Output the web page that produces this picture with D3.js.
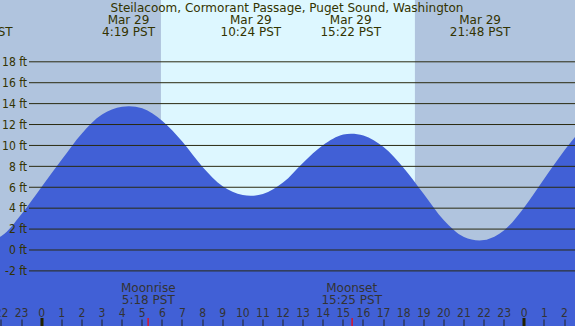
<!DOCTYPE html>
<html>
<head>
<meta charset="utf-8">
<script src="https://cdn.jsdelivr.net/npm/d3@7"></script>
<style>
html,body{margin:0;padding:0;background:#fff;}
svg{display:block;}
</style>
</head>
<body>
<svg id="chart" width="575" height="326"></svg>
<script>
// ---- data (hours relative to Mar 29 00:00 PST) ----
const sampleHours   = [-3,-2,-1,0,1,2,3,4,5,6,7,8,9,10,11,12,13,14,15,16,17,18,19,20,21,22,23,24,25,26,27];
const sampleHeights = [0.7,1.3,3.4,6.0,8.6,11.1,12.9,13.65,13.5,12.3,10.3,7.9,6.05,5.2,5.3,6.4,8.3,10.0,11.0,10.9,9.8,7.8,5.3,2.8,1.2,0.9,1.85,4.05,6.8,9.5,11.9];

const extremeHours = [-2.95, 4.317, 10.4, 15.367, 21.8];
const extremeDates = ["", "Mar 29", "Mar 29", "Mar 29", "Mar 29"];
const extremeTimes = ["21:03 PST", "4:19 PST", "10:24 PST", "15:22 PST", "21:48 PST"];

const sunriseHour = 5.93;
const sunsetHour = 18.56;

const moonHours  = [5.3, 15.417];
const moonNames  = ["Moonrise", "Moonset"];
const moonTimes  = ["5:18 PST", "15:25 PST"];

const ftTicks = [-2, 0, 2, 4, 6, 8, 10, 12, 14, 16, 18];
const hourTicks = [-2,-1,0,1,2,3,4,5,6,7,8,9,10,11,12,13,14,15,16,17,18,19,20,21,22,23,24,25,26];
const hourTickLabels = ["22","23","0","1","2","3","4","5","6","7","8","9","10","11","12","13","14","15","16","17","18","19","20","21","22","23","0","1","2"];

const title = "Steilacoom, Cormorant Passage, Puget Sound, Washington";

// ---- chart ----
const W = 575, H = 326;
const svg = d3.select("#chart");
const x = d3.scaleLinear().domain([0, 24]).range([41.7, 524.3]);
const y = d3.scaleLinear().domain([-2, 18]).range([270.4, 61.3]);

const NIGHT = "#b0c4de", DAY = "#ddf7ff", WATER = "#4160d6";
const TXT = "#333300";

// background night / day
svg.append("rect").attr("x", 0).attr("y", 0).attr("width", W).attr("height", H).attr("fill", NIGHT);
svg.append("rect").attr("x", x(sunriseHour)).attr("y", 0)
  .attr("width", x(sunsetHour) - x(sunriseHour)).attr("height", H).attr("fill", DAY);

// tide area
const area = d3.area()
  .x((d, i) => x(sampleHours[i]))
  .y0(H)
  .y1(d => y(d))
  .curve(d3.curveCatmullRom.alpha(0.5));
svg.append("path").datum(sampleHeights).attr("d", area).attr("fill", WATER);

// ft gridlines via axis
const yAxis = d3.axisLeft(y).tickValues(ftTicks).tickSize(-(W - 29)).tickPadding(2)
  .tickFormat(d => d + " ft");
const gy = svg.append("g").attr("transform", "translate(29,0)").call(yAxis);
gy.select(".domain").remove();
gy.selectAll(".tick line").attr("stroke", "#2a2a10").attr("stroke-width", 1);
gy.selectAll(".tick text")
  .attr("font-family", "'DejaVu Sans Condensed', 'DejaVu Sans', sans-serif")
  .attr("font-size", 12).attr("fill", TXT).attr("dy", "0.36em");

// top labels
const topG = svg.append("g").attr("font-family", "'DejaVu Sans', sans-serif")
  .attr("font-size", 12).attr("fill", TXT).attr("text-anchor", "middle");
topG.append("text").attr("x", 287).attr("y", 12).text(title);
extremeHours.forEach((h, i) => {
  if (extremeDates[i]) topG.append("text").attr("x", x(h)).attr("y", 24).text(extremeDates[i]);
  topG.append("text").attr("x", x(h)).attr("y", 36).text(extremeTimes[i]);
});

// moon labels
const moonG = svg.append("g").attr("font-family", "'DejaVu Sans', sans-serif")
  .attr("font-size", 12).attr("fill", "#333333").attr("text-anchor", "middle");
moonHours.forEach((h, i) => {
  moonG.append("text").attr("x", x(h)).attr("y", 292).text(moonNames[i]);
  moonG.append("text").attr("x", x(h)).attr("y", 304).text(moonTimes[i]);
});

// hour ticks & labels
const hg = svg.append("g");
hourTicks.forEach((h, i) => {
  const xx = Math.round(x(h));
  const midnight = (h % 24 === 0);
  hg.append("rect")
    .attr("x", midnight ? xx - 1.5 : xx - 0.5)
    .attr("y", midnight ? 318 : 319.5)
    .attr("width", midnight ? 3 : 1)
    .attr("height", H)
    .attr("fill", midnight ? "#222200" : "#222222");
  hg.append("text").attr("x", x(h)).attr("y", 316.5)
    .attr("text-anchor", "middle")
    .attr("font-family", "'DejaVu Sans Condensed', 'DejaVu Sans', sans-serif")
    .attr("font-size", 12).attr("fill", "#333333")
    .text(hourTickLabels[i]);
});
moonHours.forEach(h => {
  hg.append("rect").attr("x", Math.round(x(h)) - 0.5).attr("y", 318)
    .attr("width", 1.2).attr("height", H).attr("fill", "#ff0000");
});
</script>
</body>
</html>
